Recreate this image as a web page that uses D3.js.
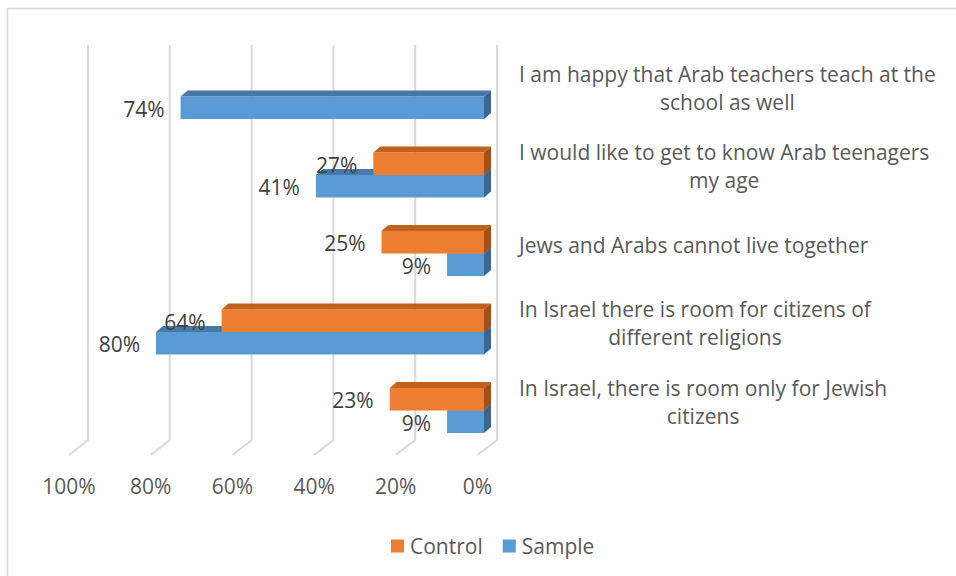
<!DOCTYPE html>
<html>
<head>
<meta charset="utf-8">
<script src="https://cdn.jsdelivr.net/npm/d3@7"></script>
<style>
  html, body { margin: 0; padding: 0; background: #fff; }
  svg { display: block; font-family: "Open Sans", Lato, sans-serif; }
</style>
</head>
<body>
<svg id="chart" width="956" height="576"></svg>
<script>
// Survey statements, top to bottom, with their wrapped lines
const categories = [
  "I am happy that Arab teachers teach at the school as well",
  "I would like to get to know Arab teenagers my age",
  "Jews and Arabs cannot live together",
  "In Israel there is room for citizens of different religions",
  "In Israel, there is room only for Jewish citizens"
];
const categoryLines = [
  ["I am happy that Arab teachers teach at the", "school as well"],
  ["I would like to get to know Arab teenagers", "my age"],
  ["Jews and Arabs cannot live together"],
  ["In Israel there is room for citizens of", "different religions"],
  ["In Israel, there is room only for Jewish", "citizens"]
];
const seriesNames = ["Control", "Sample"];
const controlValues = [null, 27, 25, 64, 23];
const sampleValues = [74, 41, 9, 80, 9];
const tickValues = [1, 0.8, 0.6, 0.4, 0.2, 0];

const colors = {
  Control: { front: "#ED7D31", top: "#C0611F", side: "#A0501A" },
  Sample:  { front: "#5B9BD5", top: "#4678A8", side: "#3A6791" }
};

const fontSize = 21;
const svg = d3.select("#chart");

// Chart frame
svg.append("rect")
  .attr("x", 7.5).attr("y", 8.5)
  .attr("width", 1000).attr("height", 1000)
  .attr("fill", "none").attr("stroke", "#d9d9d9").attr("stroke-width", 1.5);

// Reversed value axis: 0% on the right. Three planes of the 3D box.
const xBack = d3.scaleLinear().domain([0, 1]).range([497, 88]);
const xBar = d3.scaleLinear().domain([0, 1]).range([484, 74]);
const xFloor = d3.scaleLinear().domain([0, 1]).range([477.5, 69]);
const gridTop = 45, gridBottom = 440, floorFront = 455;

const y = d3.scaleBand().domain(categories).range([57.25, 449.75])
  .paddingInner(0.427).paddingOuter(0.2135);
const ySub = d3.scaleBand().domain(seriesNames).range([0, y.bandwidth()]);

const depthX = 7, depthY = 6;

// Gridlines: back wall verticals folding onto the floor
const grid = svg.append("g");
tickValues.forEach(t => {
  const xb = xBack(t);
  grid.append("polyline")
    .attr("points", [[xb, gridTop], [xb, gridBottom], [xFloor(t), floorFront]].map(p => p.join(",")).join(" "))
    .attr("fill", "none").attr("stroke", "#d9d9d9").attr("stroke-width", 2);
});

// Tick labels along the front edge of the floor
svg.append("g").selectAll("text").data(tickValues).join("text")
  .attr("x", d => xFloor(d))
  .attr("y", 486)
  .attr("text-anchor", "middle")
  .attr("dominant-baseline", "central")
  .attr("font-size", fontSize)
  .attr("fill", "#595959")
  .text(d3.format(".0%"));

// Bars: Sample drawn first so Control sits on top of it
const bars = [];
categories.forEach((c, i) => {
  bars.push({ cat: c, series: "Sample", v: sampleValues[i] });
});
categories.forEach((c, i) => {
  bars.push({ cat: c, series: "Control", v: controlValues[i] });
});

const barG = svg.append("g");
bars.filter(d => d.v != null).forEach(d => {
  const v = d.v / 100;
  const x0 = xBar(0), x1 = xBar(v);
  const yt = y(d.cat) + ySub(d.series);
  const yb = yt + ySub.bandwidth();
  const col = colors[d.series];
  const g = barG.append("g");
  g.append("rect")
    .attr("x", x1).attr("y", yt)
    .attr("width", x0 - x1).attr("height", yb - yt)
    .attr("fill", col.front);
  g.append("polygon")
    .attr("points", [[x1, yt], [x0, yt], [x0 + depthX, yt - depthY], [x1 + depthX, yt - depthY]].map(p => p.join(",")).join(" "))
    .attr("fill", col.top);
  g.append("polygon")
    .attr("points", [[x0, yt], [x0 + depthX, yt - depthY], [x0 + depthX, yb - depthY], [x0, yb]].map(p => p.join(",")).join(" "))
    .attr("fill", col.side);
});

// Value labels beyond the end of each bar
svg.append("g").selectAll("text").data(bars.filter(d => d.v != null)).join("text")
  .attr("x", d => xBar(d.v / 100) - 16)
  .attr("y", d => y(d.cat) + ySub(d.series) + ySub.bandwidth() / 2 + 1)
  .attr("text-anchor", "end")
  .attr("dominant-baseline", "central")
  .attr("font-size", fontSize)
  .attr("fill", "#404040")
  .text(d => d.v + "%");

// Category labels on the right, each block centred on its widest line
const labelLeft = 519, lineH = 28;
categories.forEach((c, i) => {
  const lines = categoryLines[i];
  const g = svg.append("g");
  const cy = y(c) + y.bandwidth() / 2 - 9;
  const texts = lines.map((ln, k) => g.append("text")
    .attr("y", cy + (k - (lines.length - 1) / 2) * lineH)
    .attr("dominant-baseline", "central")
    .attr("text-anchor", "middle")
    .attr("font-size", fontSize)
    .attr("fill", "#595959")
    .text(ln));
  const w = d3.max(texts, t => t.node().getComputedTextLength());
  texts.forEach(t => t.attr("x", labelLeft + w / 2));
});

// Legend
const legend = svg.append("g");
let lx = 391;
seriesNames.forEach(s => {
  legend.append("rect")
    .attr("x", lx).attr("y", 539.5).attr("width", 13).attr("height", 13)
    .attr("fill", colors[s].front);
  const t = legend.append("text")
    .attr("x", lx + 19).attr("y", 546)
    .attr("dominant-baseline", "central")
    .attr("font-size", fontSize)
    .attr("fill", "#595959")
    .text(s);
  lx += 19 + t.node().getComputedTextLength() + 20;
});
</script>
</body>
</html>
